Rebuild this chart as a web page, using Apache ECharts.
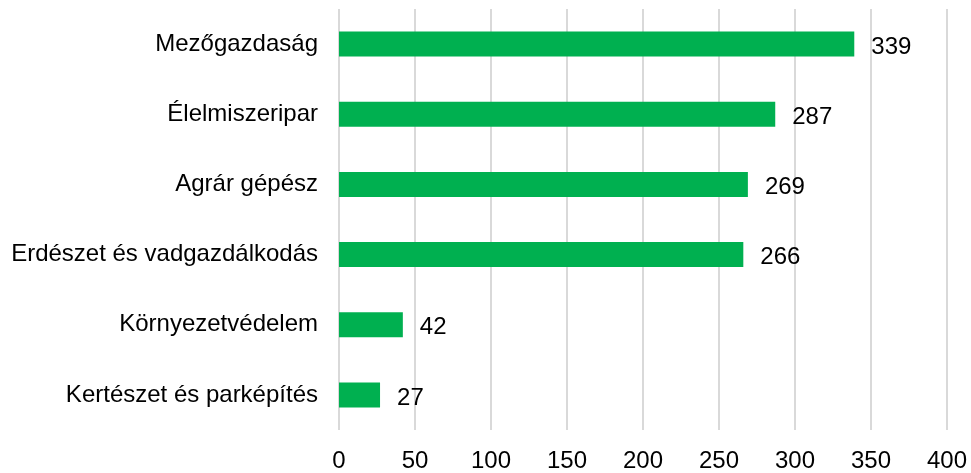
<!DOCTYPE html>
<html>
<head>
<meta charset="utf-8">
<script src="https://cdn.jsdelivr.net/npm/echarts@6/dist/echarts.min.js"></script>
<style>
  html, body { margin: 0; padding: 0; background: #fff; }
  #chart { width: 971px; height: 473px; }
</style>
</head>
<body>
<div id="chart"></div>
<script>
// szakterületek (felülről lefelé)
const categories = ['Mezőgazdaság', 'Élelmiszeripar', 'Agrár gépész', 'Erdészet és vadgazdálkodás', 'Környezetvédelem', 'Kertészet és parképítés']
const values = [339, 287, 269, 266, 42, 27]
const xTicks = [0, 50, 100, 150, 200, 250, 300, 350, 400]

const font = 'Liberation Sans, Arial, sans-serif'

const chart = echarts.init(document.getElementById('chart'))
chart.setOption({
  animation: false,
  grid: { left: 339, right: 24, top: 9, bottom: 43, containLabel: false },
  xAxis: {
    type: 'value',
    min: xTicks[0],
    max: xTicks[xTicks.length - 1],
    interval: 50,
    axisLine: { show: false },
    axisTick: { show: false },
    splitLine: { lineStyle: { color: '#d9d9d9', width: 2 } },
    axisLabel: { color: '#000', fontSize: 24, fontFamily: font, margin: 19 }
  },
  yAxis: {
    type: 'category',
    inverse: true,
    data: categories,
    axisLine: { show: false },
    axisTick: { show: false },
    axisLabel: { color: '#000', fontSize: 24, fontFamily: font, margin: 21 }
  },
  series: [{
    type: 'bar',
    data: values,
    barWidth: 25,
    itemStyle: { color: '#00b050' },
    label: {
      show: true,
      position: 'right',
      distance: 17,
      color: '#000',
      fontSize: 24,
      fontFamily: font,
      offset: [0, 3]
    }
  }]
})
</script>
</body>
</html>
